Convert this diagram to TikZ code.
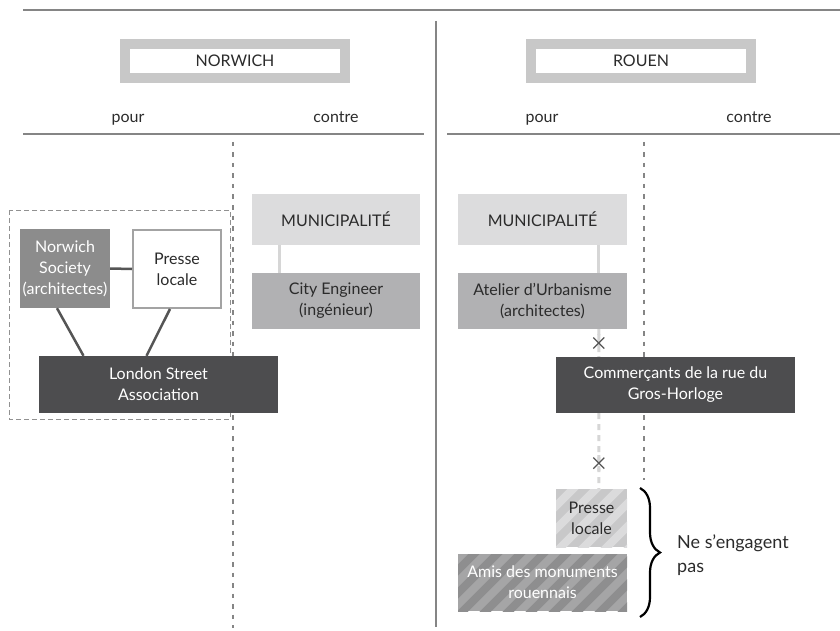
\documentclass[tikz,border=0pt]{standalone}
\usepackage{fontspec}
\setmainfont{Lato}
\usetikzlibrary{decorations.pathreplacing,calc}
\definecolor{rule}{HTML}{858585}
\definecolor{frame}{HTML}{C8C8C8}
\definecolor{txt}{HTML}{2B2B2B}
\definecolor{light}{HTML}{DCDCDD}
\definecolor{mid}{HTML}{B1B1B3}
\definecolor{medium}{HTML}{8C8C8C}
\definecolor{dark}{HTML}{4D4D4F}
\definecolor{linkdark}{HTML}{555555}
\definecolor{linklight}{HTML}{D6D6D6}
\definecolor{stripeA}{HTML}{C8C8C9}
\definecolor{stripeB}{HTML}{DBDBDC}
\definecolor{stripeC}{HTML}{A5A5A6}
\definecolor{stripeD}{HTML}{8E8E8F}
\tikzset{
  base/.style={font=\fontsize{16}{21}\selectfont, text=txt, align=center, inner sep=0pt},
  citybox/.style={base, draw=frame, fill=white, line width=10pt, minimum width=220pt, minimum height=34pt},
  colhead/.style={base, anchor=base},
  lightbox/.style={base, fill=light},
  midbox/.style={base, fill=mid},
  medbox/.style={base, fill=medium, text=white},
  darkbox/.style={base, fill=dark, text=white},
  whitebox/.style={base, fill=white, draw=medium!80, line width=2pt},
  rulestyle/.style={draw=rule, line width=2.5pt},
  coldiv/.style={draw=rule, line width=2pt, dash pattern=on 4.5pt off 6pt},
  tie/.style={draw=linkdark, line width=2.5pt},
  softtie/.style={draw=linklight, line width=3pt},
  softdash/.style={draw=linklight, line width=3pt, dash pattern=on 6pt off 5pt},
  crossmark/.style={draw=linkdark, line width=1.2pt},
}
\begin{document}
\begin{tikzpicture}[x=1pt,y=-1pt]
\useasboundingbox (0,0) rectangle (840,631);
% rules
\draw[rulestyle] (23,10) -- (840,10);
\draw[rulestyle] (436,21) -- (436,627);
\draw[rulestyle] (23,134) -- (424,134);
\draw[rulestyle] (447,134) -- (840,134);
% column dividers
\draw[coldiv] (232.5,142) -- (232.5,628);
\draw[coldiv] (643.5,142) -- (643.5,480);
% city headers
\node[citybox] (nor) at (235,61) {NORWICH};
\node[citybox] (rou) at (641,61) {ROUEN};
\node[colhead] (npour) at (128,123) {pour};
\node[colhead] (ncontre) at (336,123) {contre};
\node[colhead] (rpour) at (542,123) {pour};
\node[colhead] (rcontre) at (749,123) {contre};

% ---------- Norwich ----------
\draw[draw=rule!90, line width=1pt, dash pattern=on 5pt off 3pt] (9,210) rectangle (230,419);
\node[medbox, minimum width=90pt, minimum height=79pt] (nsoc) at (65,268.5) {Norwich\\Society\\(architectes)};
\node[whitebox, minimum width=88pt, minimum height=78pt] (npresse) at (177,269) {Presse\\locale};
\node[darkbox, minimum width=239pt, minimum height=57pt] (lsa) at (158.5,384.5) {London Street\\Association};
\draw[tie] (nsoc.east) -- (npresse.west);
\draw[tie] ([xshift=-8pt]nsoc.south) -- ([xshift=-75pt]lsa.north);
\draw[tie] ([xshift=-7pt]npresse.south) -- ([xshift=-12pt]lsa.north);

\node[lightbox, minimum width=168pt, minimum height=51pt] (lmun) at (336,219.5) {MUNICIPALITÉ};
\node[midbox, minimum width=168pt, minimum height=56pt] (leng) at (336,301) {City Engineer\\(ingénieur)};
\draw[softtie] ([xshift=28pt]lmun.south west) -- ([xshift=28pt]leng.north west);

% ---------- Rouen ----------
\node[lightbox, minimum width=169pt, minimum height=51pt] (rmun) at (542.5,219.5) {MUNICIPALITÉ};
\node[midbox, minimum width=169pt, minimum height=56pt] (atel) at (542.5,301) {Atelier d’Urbanisme\\(architectes)};
\draw[softtie] ([xshift=141pt]rmun.south west) -- ([xshift=141pt]atel.north west);
\node[darkbox, minimum width=239pt, minimum height=56pt] (comm) at (675.5,385) {Commerçants de la rue du\\Gros-Horloge};

% striped boxes
\begin{scope}
\clip (556,489) rectangle (627,547);
\fill[stripeA] (556,489) rectangle (627,547);
\foreach \i in {-4,...,6} \draw[stripeB, line width=8pt] ({556+\i*23},552) -- ++(70,-70);
\end{scope}
\node[base, minimum width=71pt, minimum height=58pt] (rpresse) at (591.5,518) {Presse\\locale};
\begin{scope}
\clip (458,554) rectangle (627,611);
\fill[stripeC] (458,554) rectangle (627,611);
\foreach \i in {-4,...,10} \draw[stripeD, line width=8pt] ({458+\i*23},616) -- ++(70,-70);
\end{scope}
\node[base, text=white, minimum width=169pt, minimum height=57pt] (amis) at (542.5,582.5) {Amis des monuments\\rouennais};

\coordinate (x1) at ($([xshift=141pt]atel.south west)!0.5!([xshift=43pt]comm.north west)$);
\draw[softdash] ([xshift=141pt]atel.south west) -- ([yshift=-9pt]x1);
\draw[softdash] ([yshift=9pt]x1) -- ([xshift=43pt]comm.north west);
\coordinate (x2) at ($([xshift=43pt]comm.south west)!0.66!([xshift=43pt]comm.south west |- rpresse.north)$);
\draw[softdash] ([xshift=43pt]comm.south west) -- ([yshift=-8pt]x2);
\draw[softdash] ([yshift=8pt]x2) -- ([xshift=43pt]comm.south west |- rpresse.north);
\foreach \c in {x1,x2}{
  \draw[crossmark] ([shift={(-5.5pt,-5.5pt)}]\c) -- ([shift={(5.5pt,5.5pt)}]\c);
  \draw[crossmark] ([shift={(-5.5pt,5.5pt)}]\c) -- ([shift={(5.5pt,-5.5pt)}]\c);
}

% brace
\coordinate (btop) at (640,488);
\coordinate (bbot) at (640,617);
\draw[black, line width=2.2pt, decorate, decoration={brace, amplitude=20pt, aspect=0.5}] (btop) -- (bbot);
\node[base, font=\fontsize{18}{24}\selectfont, anchor=west, align=left] (nsen) at (677,555) {Ne s’engagent\\pas};
\end{tikzpicture}
\end{document}
